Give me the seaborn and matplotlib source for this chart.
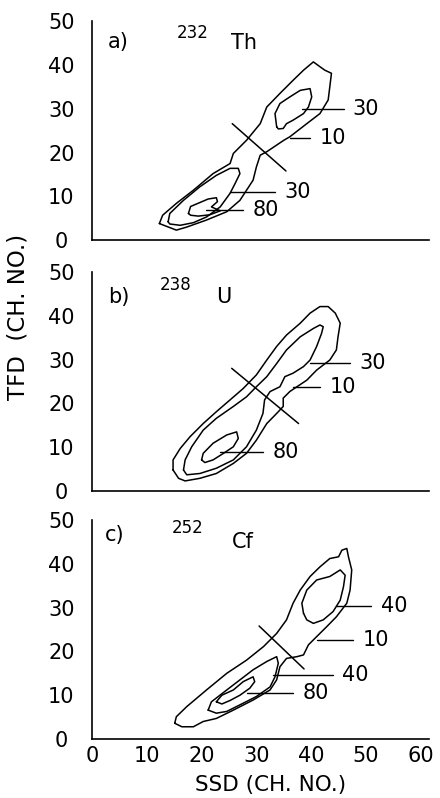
import matplotlib
matplotlib.use("Agg")
import numpy as np
import matplotlib.pyplot as plt
import seaborn as sns

# ------------------------------------------------------------
# contour outlines (SSD, TFD channel)
# ------------------------------------------------------------

# a) 232Th
th_c10 = [(12.3, 3.8), (15.4, 2.3), (17.3, 3.0), (20.9, 4.6), (24.6, 6.5), (27.0, 9.1),
          (29.4, 13.7), (30.0, 16.7), (30.7, 19.4), (31.9, 20.2), (35.0, 22.8), (36.1, 23.6),
          (39.2, 26.6), (41.6, 28.9), (43.1, 32.0), (43.4, 35.0), (43.7, 38.1), (42.5, 38.8),
          (41.6, 39.6), (40.4, 40.7), (38.6, 38.8), (36.7, 36.5), (34.3, 33.5), (31.9, 30.4),
          (30.7, 26.6), (28.2, 22.8), (25.8, 19.8), (25.2, 17.5), (22.1, 15.2), (18.5, 11.4),
          (15.4, 8.4), (12.9, 5.7)]
th_c30_hi = [(33.7, 25.9), (33.4, 28.9), (34.3, 31.2), (36.1, 32.7), (38.0, 34.2), (39.8, 34.6),
             (40.1, 32.7), (39.5, 30.4), (38.6, 28.9), (36.7, 27.4), (35.5, 26.6), (34.9, 25.5),
             (34.0, 25.4)]
th_c30_lo = [(13.9, 4.2), (14.2, 6.1), (16.7, 9.1), (19.7, 12.2), (22.7, 14.8), (25.2, 16.4),
             (26.7, 16.4), (27.0, 15.2), (26.1, 12.9), (25.2, 10.7), (23.4, 7.6), (20.9, 5.3),
             (18.5, 4.0), (16.1, 3.4), (14.2, 3.7)]
th_c80 = [(17.6, 6.1), (18.0, 7.7), (19.7, 8.6), (21.2, 9.4), (22.7, 9.7), (22.9, 8.8),
          (21.8, 7.6), (23.4, 6.7), (21.5, 5.8), (19.4, 5.5), (18.0, 5.7)]
th_cut = [(25.6, 26.6), (35.4, 15.8)]
th_tags = [("30", 38.3, 45.9, 29.9), ("10", 36.1, 39.8, 23.4),
           ("30", 25.2, 33.4, 11.0), ("80", 20.9, 27.6, 6.8)]

# b) 238U
u_c10 = [(14.8, 4.8), (15.8, 2.9), (17.0, 2.3), (19.7, 2.9), (22.7, 4.0), (25.8, 6.3),
         (28.2, 8.6), (30.0, 11.6), (31.9, 15.4), (33.7, 17.7), (34.9, 19.3), (34.9, 21.2),
         (36.1, 22.7), (37.4, 23.8), (39.2, 25.3), (41.0, 27.6), (43.4, 29.9), (44.6, 32.2),
         (44.9, 35.2), (45.3, 38.3), (44.4, 40.6), (43.1, 42.1), (41.6, 42.1), (39.8, 40.6),
         (38.0, 38.3), (35.5, 35.6), (33.7, 33.0), (31.9, 29.9), (30.0, 26.5), (27.6, 23.4),
         (25.2, 20.8), (22.7, 18.1), (20.3, 15.4), (17.9, 12.4), (16.1, 9.7), (14.8, 7.1)]
u_c30 = [(16.7, 4.8), (17.3, 3.7), (19.7, 4.0), (22.7, 5.2), (25.8, 7.1), (28.2, 10.1),
         (30.0, 13.9), (31.2, 17.7), (31.5, 20.8), (32.5, 22.7), (34.3, 23.8), (35.2, 26.1),
         (36.7, 26.9), (38.6, 28.4), (39.8, 29.9), (41.0, 33.0), (41.9, 36.0), (42.2, 37.5),
         (41.6, 37.9), (40.4, 37.1), (38.0, 35.2), (35.5, 32.2), (33.7, 29.1), (31.9, 26.1),
         (30.0, 23.8), (28.2, 21.5), (25.8, 19.3), (22.7, 16.6), (20.3, 13.9), (18.2, 10.1),
         (17.0, 7.1)]
u_c80 = [(20.0, 7.1), (20.3, 8.6), (22.1, 10.9), (24.6, 12.8), (26.4, 13.5), (26.7, 12.0),
         (25.8, 10.1), (24.0, 8.6), (22.1, 7.1), (20.6, 6.5)]
u_cut = [(25.5, 28.0), (37.7, 15.4)]
u_tags = [("30", 39.8, 47.1, 29.3), ("10", 36.7, 41.6, 23.8), ("80", 23.4, 31.3, 9.0)]

# c) 252Cf
cf_c10 = [(15.1, 3.6), (16.4, 2.8), (18.5, 2.8), (20.3, 4.0), (22.7, 4.7), (25.8, 6.6),
          (29.4, 8.9), (32.5, 11.2), (33.7, 13.5), (34.3, 16.5), (35.5, 18.4), (37.4, 18.8),
          (38.6, 19.2), (39.5, 21.5), (40.7, 23.0), (42.8, 25.6), (44.6, 27.9), (46.5, 31.0),
          (47.1, 34.0), (47.4, 38.6), (46.8, 41.6), (46.5, 43.5), (45.6, 43.1), (45.0, 41.6),
          (43.4, 41.2), (41.6, 39.3), (39.8, 37.1), (38.0, 34.0), (36.7, 31.0), (35.5, 27.2),
          (33.7, 24.1), (31.3, 21.1), (28.2, 18.0), (24.6, 15.0), (20.9, 11.2), (17.3, 7.4),
          (15.4, 5.1)]
cf_c40_hi = [(38.6, 28.7), (38.3, 31.0), (39.2, 34.0), (41.0, 36.3), (43.4, 37.1), (45.3, 38.6),
             (46.2, 37.4), (45.9, 34.8), (45.3, 31.7), (44.0, 29.1), (42.2, 27.2), (40.4, 26.4),
             (39.2, 27.2)]
cf_c40_lo = [(21.2, 6.6), (21.8, 8.5), (24.6, 11.2), (27.0, 13.5), (29.4, 15.8), (31.9, 17.7),
             (33.7, 18.8), (34.0, 17.3), (33.4, 14.2), (32.5, 11.9), (30.0, 9.7), (27.0, 7.8),
             (24.6, 6.3), (22.7, 5.9)]
cf_c80 = [(22.7, 8.5), (23.7, 10.0), (25.8, 11.2), (27.6, 13.1), (29.4, 14.2), (29.7, 13.1),
          (28.8, 11.6), (27.0, 10.0), (25.2, 8.8), (23.7, 8.0)]
cf_cut = [(30.5, 25.8), (38.7, 16.0)]
cf_tags = [("40", 44.6, 51.0, 30.4), ("10", 41.0, 47.7, 22.5),
           ("40", 33.1, 44.0, 14.6), ("80", 28.2, 36.7, 10.4)]

panel_ids = ["a)", "b)", "c)"]
mass_nums = ["232", "238", "252"]
elements = ["Th", "U", "Cf"]
x_ticks = [0, 10, 20, 30, 40, 50, 60]
y_ticks = [0, 10, 20, 30, 40, 50]

panels = [
    ([th_c10, th_c30_hi, th_c30_lo, th_c80], th_cut, th_tags),
    ([u_c10, u_c30, u_c80], u_cut, u_tags),
    ([cf_c10, cf_c40_hi, cf_c40_lo, cf_c80], cf_cut, cf_tags),
]

# ------------------------------------------------------------
# drawing
# ------------------------------------------------------------
sns.set_theme(style="white")
plt.rcParams["font.family"] = ["DejaVu Sans"]
plt.rcParams["text.color"] = "black"
plt.rcParams["axes.labelcolor"] = "black"

fs = 15
fig = plt.figure(figsize=(4.4, 7.98), dpi=100)
bottoms = [0.699, 0.3847, 0.0739]
axes = [fig.add_axes([0.209, b, 0.766, 0.2745]) for b in bottoms]

# where the panel titles sit (x, y in data units)
title_pos = [((2.9, 45.2), (15.5, 47.3), (25.3, 45.0)),
             ((2.9, 44.3), (12.4, 47.0), (22.6, 44.3)),
             ((2.4, 46.6), (14.6, 48.2), (25.5, 45.0))]

for i, ax in enumerate(axes):
    contours, cut, tags = panels[i]
    for c in contours:
        pts = np.array(c + [c[0]])
        sns.lineplot(x=pts[:, 0], y=pts[:, 1], sort=False, estimator=None,
                     color="black", lw=1.1, ax=ax)
    ax.plot([cut[0][0], cut[1][0]], [cut[0][1], cut[1][1]], color="black", lw=1.1)
    for txt, x0, x1, yy in tags:
        ax.plot([x0, x1], [yy, yy], color="black", lw=1.0)
        ax.text(x1 + 1.7, yy, txt, fontsize=fs, ha="left", va="center")

    (px, py), (mx, my), (ex, ey) = title_pos[i]
    ax.text(px, py, panel_ids[i], fontsize=fs, ha="left", va="center")
    ax.text(mx, my, mass_nums[i], fontsize=12, ha="left", va="center")
    ax.text(ex, ey, elements[i], fontsize=fs, ha="left", va="center")

    ax.set_xlim(0, 61.5)
    ax.set_ylim(0, 50)
    ax.set_xlabel("")
    ax.set_ylabel("")
    sns.despine(ax=ax)
    for side in ["left", "bottom"]:
        ax.spines[side].set_linewidth(1.2)
        ax.spines[side].set_color("black")
    ax.set_xticks(x_ticks)
    ax.set_yticks(y_ticks)
    ax.tick_params(direction="in", length=6, width=1.0, colors="black",
                   labelsize=fs)
    ax.tick_params(axis="y", pad=22)
    ax.tick_params(axis="x", pad=5)
    for lab in ax.get_yticklabels():
        lab.set_horizontalalignment("center")
    if i < 2:
        ax.set_xticklabels([])

fig.text(0.041, 0.603, "TFD  (CH. NO.)", rotation=90, fontsize=16.5,
         ha="center", va="center")
fig.text(0.614, 0.0165, "SSD (CH. NO.)", fontsize=15.5, ha="center", va="center")

fig.savefig("out.png", dpi=100, facecolor="white")
